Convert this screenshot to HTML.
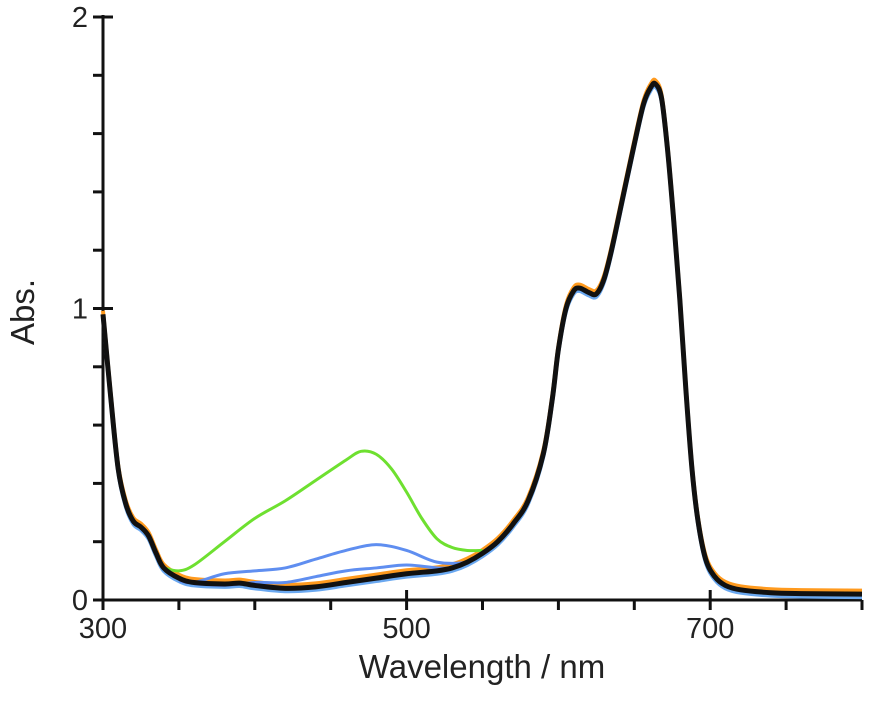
<!DOCTYPE html>
<html><head><meta charset="utf-8"><style>
body{margin:0;background:#fff;}
svg{display:block;font-family:"Liberation Sans",Arial,sans-serif;}
</style></head><body>
<svg id="chart" width="869" height="720" viewBox="0 0 869 720">
<g id="axes"></g>
<g id="series"></g>
<text x="0" y="0" transform="translate(34,312) rotate(-90)" text-anchor="middle" font-size="33" fill="#222">Abs.</text>
<text x="482" y="678" text-anchor="middle" font-size="33" fill="#222">Wavelength / nm</text>
</svg>
<script>
const xTicksMajor=[300,500,700];
const xTicksMinor=[350,400,450,550,600,650,750,800];
const yTicksMajor=[0,1,2];
const yTicksMinor=[0.2,0.4,0.6,0.8,1.2,1.4,1.6,1.8];
const blackW=[300,305,310,315,320,325,330,335,340,350,360,380,390,400,420,440,460,480,500,520,530,540,550,560,570,580,590,596,600,605,610,614,620,625,630,635,642,649,656,661,664,668,672,676,680,684,688,692,697,703,710,720,740,760,800];
const blackA=[0.98,0.7,0.45,0.33,0.27,0.25,0.22,0.16,0.11,0.075,0.06,0.055,0.058,0.05,0.04,0.045,0.06,0.075,0.09,0.1,0.11,0.13,0.16,0.2,0.26,0.34,0.5,0.69,0.86,1.0,1.06,1.07,1.055,1.05,1.1,1.2,1.37,1.54,1.7,1.76,1.77,1.72,1.54,1.3,1.03,0.72,0.45,0.27,0.14,0.08,0.05,0.035,0.025,0.022,0.02];
const greenW=[340,350,360,380,400,420,440,460,470,480,490,500,510,520,530,540,550];
const greenA=[0.11,0.1,0.12,0.2,0.28,0.34,0.41,0.48,0.51,0.5,0.45,0.37,0.28,0.21,0.18,0.17,0.17];
const blue1W=[350,360,380,400,420,440,460,480,500,520,540,550];
const blue1A=[0.065,0.06,0.09,0.1,0.11,0.14,0.17,0.19,0.17,0.13,0.13,0.16];
const blue2W=[360,380,400,420,440,460,480,500,520,530];
const blue2A=[0.055,0.05,0.06,0.06,0.08,0.1,0.11,0.12,0.11,0.11];
const NS="http://www.w3.org/2000/svg";
const X=w=>103+(w-300)*1.518;
const Y=a=>600-a*291.5;
function mk(tag,attrs,parent){const e=document.createElementNS(NS,tag);for(const k in attrs)e.setAttribute(k,attrs[k]);parent.appendChild(e);return e;}
const axes=document.getElementById('axes');
let e=mk('line',{x1:103,y1:600,x2:862,y2:600,stroke:'#111','stroke-width':3},axes);


e=mk('line',{x1:103,y1:15,x2:103,y2:601,stroke:'#111','stroke-width':3},axes);


xTicksMajor.forEach(v=>{
 let t=mk('line',{x1:X(v),y1:590,x2:X(v),y2:610,stroke:'#111','stroke-width':3},axes);
 
 
 let l=mk('text',{x:X(v),y:638,'text-anchor':'middle','font-size':29,fill:'#222'},axes);l.textContent=v;
 
 
});
xTicksMinor.forEach(v=>{
 let t=mk('line',{x1:X(v),y1:600,x2:X(v),y2:610,stroke:'#111','stroke-width':3},axes);
 
 
});
yTicksMajor.forEach(v=>{
 let t=mk('line',{x1:93,y1:Y(v),x2:113,y2:Y(v),stroke:'#111','stroke-width':3},axes);
 
 
 let l=mk('text',{x:88,y:Y(v)+10,'text-anchor':'end','font-size':29,fill:'#222'},axes);l.textContent=v;
 
 
});
yTicksMinor.forEach(v=>{
 let t=mk('line',{x1:93,y1:Y(v),x2:103,y2:Y(v),stroke:'#111','stroke-width':3},axes);
 
 
});
function pathD(ws,as){
 const p=ws.map((w,i)=>[X(w),Y(as[i])]);
 let d='M'+p[0][0]+','+p[0][1];
 for(let i=0;i<p.length-1;i++){
  const p0=p[Math.max(0,i-1)],p1=p[i],p2=p[i+1],p3=p[Math.min(p.length-1,i+2)];
  const c1=[p1[0]+(p2[0]-p0[0])/6,p1[1]+(p2[1]-p0[1])/6];
  const c2=[p2[0]-(p3[0]-p1[0])/6,p2[1]-(p3[1]-p1[1])/6];
  d+=` C${c1[0]},${c1[1]} ${c2[0]},${c2[1]} ${p2[0]},${p2[1]}`;
 }
 return d;
}
const ser=document.getElementById('series');
let s=mk('path',{d:pathD(blackW,blackA.map(a=>a+0.012)),fill:'none',stroke:'#ff9a1e','stroke-width':4},ser);


s=mk('path',{d:pathD(blackW,blackA.map(a=>a-0.01)),fill:'none',stroke:'#6aa8f0','stroke-width':4},ser);


s=mk('path',{d:pathD(greenW,greenA),fill:'none',stroke:'#6ee030','stroke-width':3},ser);


s=mk('path',{d:pathD(blue1W,blue1A),fill:'none',stroke:'#5f8ef0','stroke-width':3},ser);


s=mk('path',{d:pathD(blue2W,blue2A),fill:'none',stroke:'#5f8ef0','stroke-width':3},ser);


s=mk('path',{d:pathD(blackW,blackA),fill:'none',stroke:'#111','stroke-width':5},ser);


</script>
</body></html>
